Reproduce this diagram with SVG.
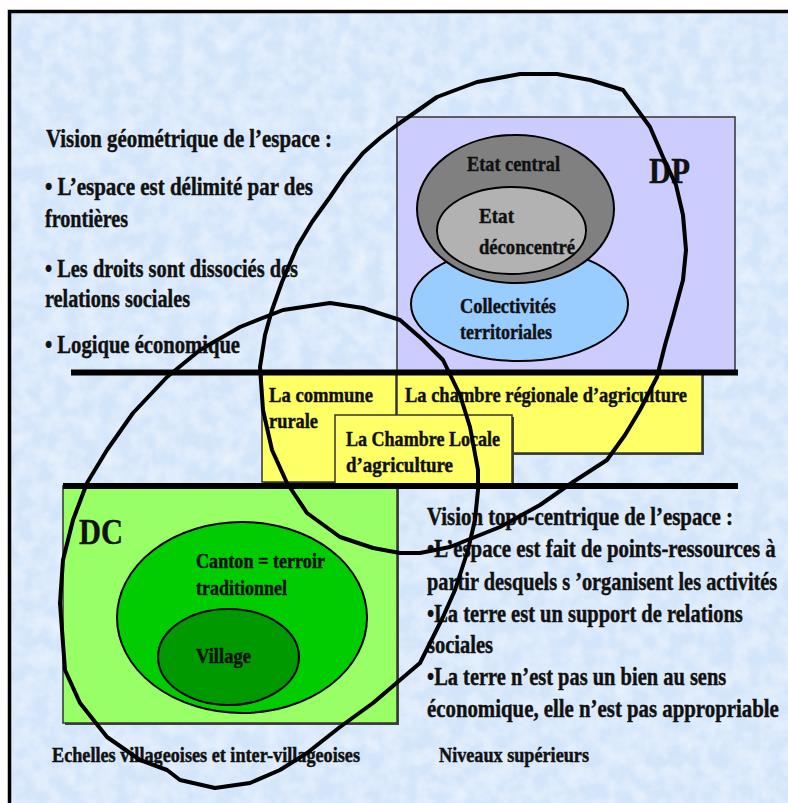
<svg xmlns="http://www.w3.org/2000/svg" width="788" height="803" viewBox="0 0 788 803">
<defs>
<filter id="tex" x="0" y="0" width="100%" height="100%">
<feTurbulence type="fractalNoise" baseFrequency="0.06" numOctaves="3" seed="4" result="n"/>
<feColorMatrix in="n" type="matrix" values="0 0 0 0 1  0 0 0 0 1  0 0 0 0 1  0 0 0 0.8 -0.25" result="w"/>
<feComposite in="w" in2="SourceGraphic" operator="over"/>
</filter>
</defs>
<style>
text{font-family:"Liberation Serif","Times New Roman",serif;font-weight:bold;fill:#111;stroke:#111;stroke-width:0.45;}
.t26{font-size:26px;}
.t25{font-size:25px;}
.t22{font-size:22px;}
.t20{font-size:20px;}
.big{font-size:36px;}
.box{stroke:#333;stroke-width:1.5;}
.shadow{fill:#444;}
.thick{stroke:#000;stroke-width:6;}
.loop{fill:none;stroke:#000;stroke-width:4;stroke-linejoin:round;}
.ell{stroke:#000;stroke-width:2;}
</style>
<rect x="0" y="0" width="788" height="803" fill="#ffffff"/>
<rect x="8" y="11" width="800" height="820" fill="#d3e5fa" filter="url(#tex)"/>
<path d="M9.5 805 V11.5 H790" fill="none" stroke="#000" stroke-width="3.5"/>

<g id="text-geometrique">
<text class="t26" x="46" y="147" textLength="286" lengthAdjust="spacingAndGlyphs">Vision géométrique de l’espace :</text>
<text class="t26" x="45" y="195" textLength="268" lengthAdjust="spacingAndGlyphs">• L’espace est délimité par des</text>
<text class="t26" x="45" y="227" textLength="83" lengthAdjust="spacingAndGlyphs">frontières</text>
<text class="t26" x="45" y="277" textLength="253" lengthAdjust="spacingAndGlyphs">• Les droits sont dissociés des</text>
<text class="t26" x="45" y="307" textLength="145" lengthAdjust="spacingAndGlyphs">relations sociales</text>
<text class="t26" x="45" y="353" textLength="195" lengthAdjust="spacingAndGlyphs">• Logique économique</text>
</g>

<g id="DP">
<rect x="397" y="117" width="338" height="256" fill="#ccccff" class="box"/>
<ellipse cx="519.5" cy="304" rx="108.5" ry="57" fill="#99ccff" class="ell"/>
<ellipse cx="515.5" cy="209" rx="98.5" ry="74" fill="#808080" class="ell"/>
<ellipse cx="511.5" cy="230.5" rx="74.5" ry="43.5" fill="#b2b2b2" class="ell"/>
<text class="t22" x="467" y="171" textLength="93" lengthAdjust="spacingAndGlyphs">Etat central</text>
<text class="t22" x="479" y="223" textLength="35" lengthAdjust="spacingAndGlyphs">Etat</text>
<text class="t22" x="479" y="254" textLength="96" lengthAdjust="spacingAndGlyphs">déconcentré</text>
<text class="t22" x="460" y="313" textLength="96" lengthAdjust="spacingAndGlyphs">Collectivités</text>
<text class="t22" x="460" y="339" textLength="92" lengthAdjust="spacingAndGlyphs">territoriales</text>
<text class="big" x="649" y="183" textLength="41" lengthAdjust="spacingAndGlyphs">DP</text>
</g>

<g id="commune">
<rect x="264" y="374" width="134" height="110" class="shadow"/>
<rect x="262" y="372" width="134" height="110" fill="#ffff66" class="box"/>
<text class="t22" x="269" y="402" textLength="104" lengthAdjust="spacingAndGlyphs">La commune</text>
<text class="t22" x="269" y="428" textLength="49" lengthAdjust="spacingAndGlyphs">rurale</text>
</g>

<g id="chambre-regionale">
<rect x="399" y="374" width="305" height="81" class="shadow"/>
<rect x="397" y="372" width="305" height="81" fill="#ffff66" class="box"/>
<text class="t22" x="405" y="402" textLength="282" lengthAdjust="spacingAndGlyphs">La chambre régionale d’agriculture</text>
</g>

<g id="chambre-locale">
<rect x="337" y="417" width="177" height="70" class="shadow"/>
<rect x="335" y="415" width="177" height="70" fill="#ffff66" class="box"/>
<text class="t22" x="346" y="446" textLength="154" lengthAdjust="spacingAndGlyphs">La Chambre Locale</text>
<text class="t22" x="346" y="472" textLength="107" lengthAdjust="spacingAndGlyphs">d’agriculture</text>
</g>

<g id="DC">
<rect x="65" y="488" width="334" height="237" class="shadow"/>
<rect x="63" y="486" width="334" height="237" fill="#99ff66" class="box"/>
<ellipse cx="242" cy="617.5" rx="125" ry="95.5" fill="#00cc00" class="ell"/>
<ellipse cx="228.5" cy="657" rx="70.5" ry="48" fill="#009900" class="ell"/>
<text class="big" x="79" y="544" textLength="44" lengthAdjust="spacingAndGlyphs">DC</text>
<text class="t22" x="196" y="568" textLength="129" lengthAdjust="spacingAndGlyphs">Canton = terroir</text>
<text class="t22" x="196" y="595" textLength="91" lengthAdjust="spacingAndGlyphs">traditionnel</text>
<text class="t22" x="196" y="663" textLength="55" lengthAdjust="spacingAndGlyphs">Village</text>
</g>

<g id="text-topocentrique" transform="translate(427 0) scale(0.75 1)">
<text class="t25" x="0" y="525" textLength="408" lengthAdjust="spacingAndGlyphs">Vision topo-centrique de l’espace :</text>
<text class="t25" x="0" y="557" textLength="465" lengthAdjust="spacingAndGlyphs">•L’espace est fait de points-ressources à</text>
<text class="t25" x="0" y="590" textLength="467" lengthAdjust="spacingAndGlyphs">partir desquels s ’organisent les activités</text>
<text class="t25" x="0" y="622" textLength="421" lengthAdjust="spacingAndGlyphs">•La terre est un support de relations</text>
<text class="t25" x="0" y="653" textLength="88" lengthAdjust="spacingAndGlyphs">sociales</text>
<text class="t25" x="0" y="685" textLength="399" lengthAdjust="spacingAndGlyphs">•La terre n’est pas un bien au sens</text>
<text class="t25" x="0" y="717" textLength="469" lengthAdjust="spacingAndGlyphs">économique, elle n’est pas appropriable</text>
</g>

<g id="labels">
<text class="t20" x="52" y="762" textLength="308" lengthAdjust="spacingAndGlyphs">Echelles villageoises et inter-villageoises</text>
<text class="t20" x="439" y="762" textLength="150" lengthAdjust="spacingAndGlyphs">Niveaux supérieurs</text>
</g>

<g id="connectors">
<line class="thick" x1="71" y1="372.5" x2="738" y2="372.5"/>
<line class="thick" x1="63" y1="486" x2="738" y2="486"/>
<path class="loop" d="M520 74 L557 74 L590 80 L623 90 L650 127 L663 157 L676 185 L683 215 L686 250 L683 280 L673 317 L665 345 L657 377 L640 410 L625 435 L607 460 L573 482 L540 505 L500 527 L450 547 L420 553 L400 553 L373 548 L340 537 L307 513 L287 483 L272 450 L263 410 L260 367 L265 335 L272 310 L282 282 L297 247 L312 222 L330 197 L345 175 L363 153 L380 138 L397 125 L437 97 L477 82 Z"/>
<path class="loop" d="M330 303 L363 308 L400 320 L423 340 L443 360 L460 395 L470 427 L478 470 L478 490 L475 520 L468 550 L455 590 L443 617 L420 663 L373 703 L340 727 L307 753 L280 770 L250 783 L215 788 L180 780 L167 770 L140 760 L107 737 L80 703 L65 670 L60 603 L63 560 L73 520 L87 483 L107 450 L133 413 L167 377 L200 350 L240 327 L283 310 Z"/>
</g>
</svg>
